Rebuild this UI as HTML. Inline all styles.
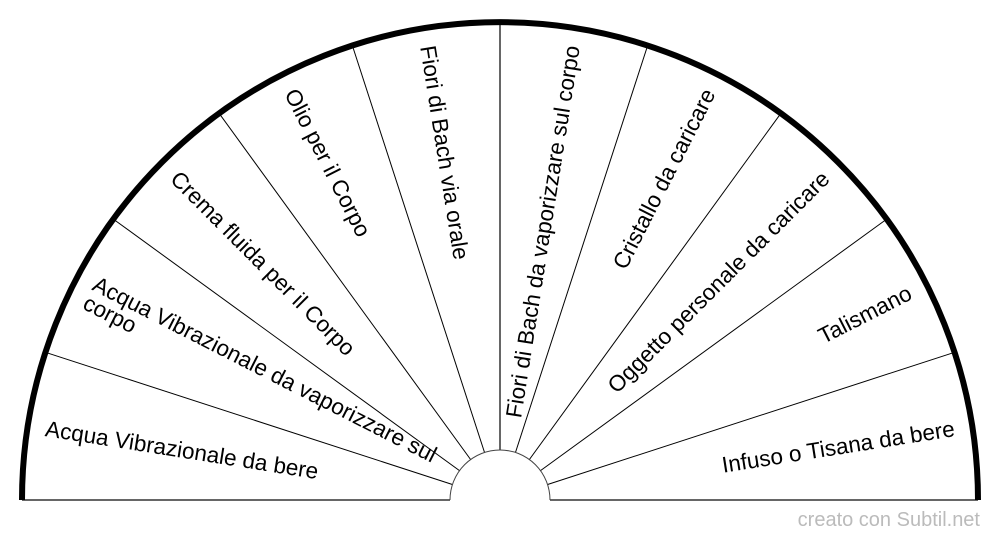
<!DOCTYPE html>
<html><head><meta charset="utf-8"><style>
html,body{margin:0;padding:0;background:#fff;width:1000px;height:540px;overflow:hidden}
svg{display:block}
text{font-family:"Liberation Sans",Arial,sans-serif;font-size:22.5px;fill:#000}
</style></head><body>
<svg width="1000" height="540" viewBox="0 0 1000 540">
<g stroke="#000" stroke-width="1" fill="none">
<line x1="22" y1="500" x2="450" y2="500" stroke="#666" stroke-width="2"/>
<line x1="550" y1="500" x2="978" y2="500" stroke="#666" stroke-width="2"/>
<line x1="452.4" y1="484.5" x2="45.4" y2="352.3"/>
<line x1="459.5" y1="470.6" x2="113.3" y2="219.1"/>
<line x1="470.6" y1="459.5" x2="219.1" y2="113.3"/>
<line x1="484.5" y1="452.4" x2="352.3" y2="45.4"/>
<line x1="500" y1="450" x2="500" y2="22" stroke="#666" stroke-width="2"/>
<line x1="515.5" y1="452.4" x2="647.7" y2="45.4"/>
<line x1="529.4" y1="459.5" x2="780.9" y2="113.3"/>
<line x1="540.5" y1="470.6" x2="886.7" y2="219.1"/>
<line x1="547.6" y1="484.5" x2="954.6" y2="352.3"/>
<path d="M450 500 A50 50 0 0 1 550 500" stroke="#444"/>
<path d="M22 500 A478 478 0 0 1 978 500" stroke-width="6"/>
</g>
<g>
<text transform="translate(500 500) rotate(9) translate(-460 0)" dy="8">Acqua Vibrazionale da bere</text>
<text transform="translate(500 500) rotate(27) translate(-460 0)"><tspan x="0" dy="-2">Acqua Vibrazionale da vaporizzare sul</tspan><tspan x="0" dy="21">corpo</tspan></text>
<text transform="translate(500 500) rotate(45) translate(-460 0)" dy="8">Crema fluida per il Corpo</text>
<text transform="translate(500 500) rotate(63) translate(-460 0)" dy="8">Olio per il Corpo</text>
<text transform="translate(500 500) rotate(81) translate(-460 0)" dy="8">Fiori di Bach via orale</text>
<text transform="translate(500 500) rotate(-81) translate(460 0)" dy="8" text-anchor="end">Fiori di Bach da vaporizzare sul corpo</text>
<text transform="translate(500 500) rotate(-63) translate(460 0)" dy="8" text-anchor="end">Cristallo da caricare</text>
<text transform="translate(500 500) rotate(-45) translate(460 0)" dy="8" text-anchor="end">Oggetto personale da caricare</text>
<text transform="translate(500 500) rotate(-27) translate(460 0)" dy="8" text-anchor="end">Talismano</text>
<text transform="translate(500 500) rotate(-9) translate(460 0)" dy="8" text-anchor="end">Infuso o Tisana da bere</text>
</g>
<text x="980" y="526" text-anchor="end" style="font-size:20px;fill:#bbb">creato con Subtil.net</text>
</svg>
</body></html>
